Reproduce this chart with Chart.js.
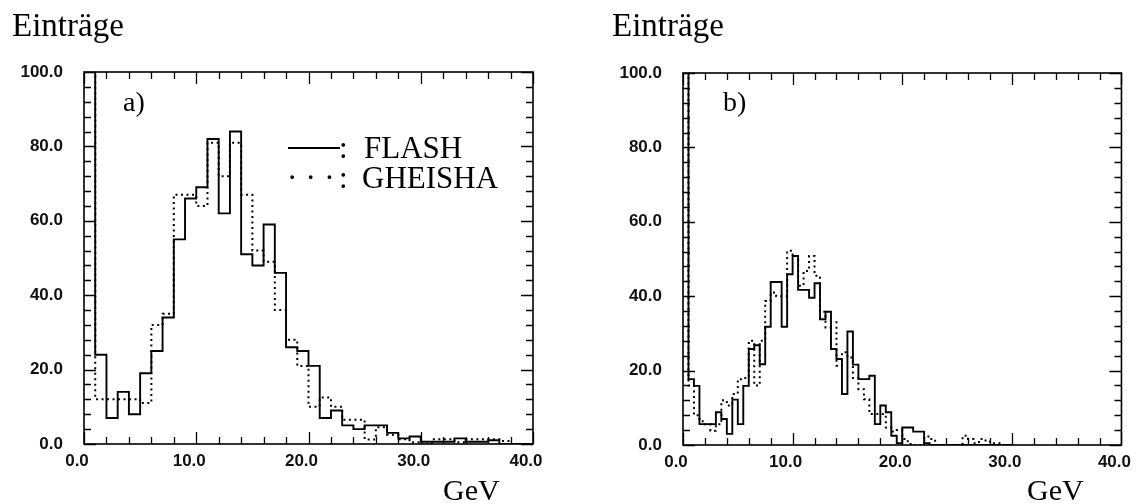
<!DOCTYPE html>
<html><head><meta charset="utf-8">
<script src="https://cdn.jsdelivr.net/npm/chart.js@4.4.1/dist/chart.umd.min.js"></script>
<style>
html,body{margin:0;padding:0;background:#fff;}
#wrap{position:relative;width:1145px;height:504px;overflow:hidden;background:#fff;}
canvas{position:absolute;top:0;}
.t{position:absolute;font-family:"Liberation Serif","Times New Roman",serif;color:#000;line-height:1;white-space:nowrap;}
</style></head><body>
<div id="wrap">
<canvas id="cA" width="572" height="504" style="left:0px"></canvas>
<canvas id="cB" width="573" height="504" style="left:572px"></canvas>
<div class="t" style="left:12px;top:9px;font-size:33px">Einträge</div>
<div class="t" style="left:612px;top:9px;font-size:33px">Einträge</div>
<div class="t" style="left:443px;top:475px;font-size:30px">GeV</div>
<div class="t" style="left:1027px;top:475px;font-size:30px">GeV</div>
<div class="t" style="left:123px;top:88px;font-size:28px">a)</div>
<div class="t" style="left:723px;top:88px;font-size:28px">b)</div>
<div style="position:absolute;left:288px;top:147px;width:52px;border-top:2px solid #000"></div>
<div class="t" style="left:339px;top:132px;font-size:31px">:</div>
<div class="t" style="left:364px;top:132px;font-size:31px">FLASH</div>
<div class="t" style="left:287px;top:162px;font-size:31px;letter-spacing:8.3px">···</div>
<div class="t" style="left:339px;top:162px;font-size:31px">:</div>
<div class="t" style="left:362px;top:162px;font-size:31px">GHEISHA</div>
</div>
<script>
// ---- data (entries per bin) ----
const binWidthA = 1.0;   // GeV, panel a)
const flashA   = [130,24,7,14,8,19,25,34,55,66,69,82,62,84,51,48,59,46,26,25,21,7,9,5,4,5,5,3,1.5,2,0.6,0.6,0.6,1.5,0.6,0.6,1,0,0,0];
const gheishaA = [130,12,12,12,12,11,32,35,67,67,64,81,72,81,67,52,49,36,28,21,10,12.5,10,6.5,6.5,1.2,4.5,2.5,1.3,0.5,0,1.3,1.3,0.5,1.3,1.3,1.3,0.8,0,0];

const binWidthB = 0.5;   // GeV, panel b)
const flashB   = [130,17.7,15.9,5.6,5.6,5.6,8.8,7,3,12.2, 5.6,15.9,25.8,26.8,21.7,31.8,43.8,43.8,31.8,45.9,
                  50.8,41.7,41.7,39.6,43.5,33.8,35.8,25.8,23.1,13.7, 30.5,21.6,17.7,17.7,18.6,5.6,10.6,8.8,2.5,0.5,
                  4.7,4.7,3.6,3.6,0.5,0,0,0,0,0, 0,0,0,0,0,0,0,0,0,0];
const gheishaB = [130,16,8,6.4,5.6,3.8,5.6,12,10.6,13.7, 17.7,18,28,16,28,38.7,41,40,40,52.2,
                  50.8,42.8,46.8,50.8,45.5,35.8,31.6,33,21.3,24.9, 23.5,18,15,12.3,8.3,8.3,8.3,4.7,3.6,4,
                  1.6,0.3,0,0,2.3,1.6,0,0,0,0, 0,2.5,1.6,0.5,1.6,1.2,0.5,0.5,0,0];

const xTicks = [0,10,20,30,40];
const yTicks = [0,20,40,60,80,100];
const xMinorStep = 2, yMinorStep = 4;

function histPoints(values, w){
  const pts = values.map((v,i)=>({x:i*w, y:v}));
  pts.push({x:values.length*w, y:0});
  return pts;
}

const frameTicks = {
  id:'frameTicks',
  afterDatasetsDraw(chart){
    const {ctx, chartArea:{left,right,top,bottom}, scales:{x,y}} = chart;
    ctx.save();
    ctx.strokeStyle='#000';
    ctx.lineWidth=1.6;
    ctx.strokeRect(left,top,right-left,bottom-top);
    ctx.lineWidth=1.3;
    ctx.beginPath();
    for(let v=x.min; v<=x.max+1e-9; v+=xMinorStep){
      const px=Math.round(x.getPixelForValue(v))+0.5;
      const len = xTicks.includes(v)?12:7;
      ctx.moveTo(px,bottom); ctx.lineTo(px,bottom-len);
      ctx.moveTo(px,top); ctx.lineTo(px,top+len);
    }
    for(let v=y.min; v<=y.max+1e-9; v+=yMinorStep){
      const py=Math.round(y.getPixelForValue(v))+0.5;
      const len = yTicks.includes(v)?12:7;
      ctx.moveTo(left,py); ctx.lineTo(left+len,py);
      ctx.moveTo(right,py); ctx.lineTo(right-len,py);
    }
    ctx.stroke();
    ctx.restore();
  }
};

function makeChart(id, w, flash, gheisha, pad, yWidth){
  return new Chart(document.getElementById(id), {
    type:'line',
    data:{datasets:[
      {label:'FLASH', data:histPoints(flash,w), stepped:true, borderColor:'#000', borderWidth:1.9, pointRadius:0, fill:false},
      {label:'GHEISHA', data:histPoints(gheisha,w), stepped:true, borderColor:'#000', borderWidth:2, borderDash:[2,3.5], pointRadius:0, fill:false}
    ]},
    options:{
      responsive:false, animation:false, devicePixelRatio:1,
      layout:{padding:pad},
      plugins:{legend:{display:false}, tooltip:{enabled:false}},
      scales:{
        x:{type:'linear', min:0, max:40,
           afterBuildTicks:s=>{s.ticks = xTicks.map(v=>({value:v}));},
           afterFit:s=>{s.height=30;},
           grid:{display:false, drawTicks:false}, border:{display:false},
           ticks:{padding:7, labelOffset:-7, color:'#111', maxRotation:0, autoSkip:false,
                  font:{family:'Liberation Sans', size:17, weight:'bold'}, callback:v=>Number(v).toFixed(1)}},
        y:{type:'linear', min:0, max:100,
           afterBuildTicks:s=>{s.ticks = yTicks.map(v=>({value:v}));},
           afterFit:s=>{s.width=yWidth;},
           grid:{display:false, drawTicks:false}, border:{display:false},
           ticks:{padding:21, color:'#111', font:{family:'Liberation Sans', size:17, weight:'bold'}, callback:v=>Number(v).toFixed(1)}}
      }
    },
    plugins:[frameTicks]
  });
}

makeChart('cA', binWidthA, flashA, gheishaA, {left:0, top:72, right:39, bottom:30}, 84);
makeChart('cB', binWidthB, flashB, gheishaB, {left:0, top:73, right:14, bottom:29}, 111);
</script>
</body></html>
